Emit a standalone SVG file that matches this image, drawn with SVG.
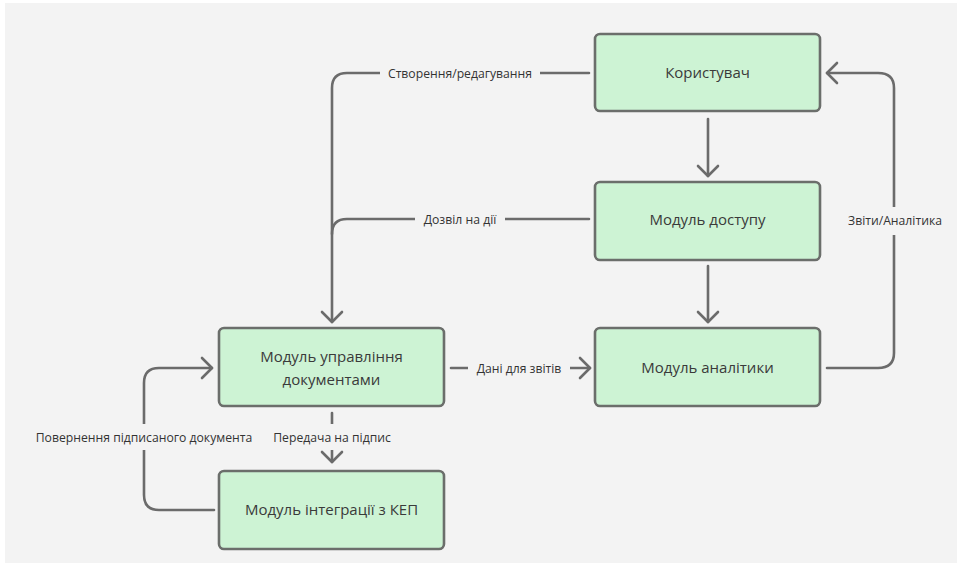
<svg xmlns="http://www.w3.org/2000/svg" width="957" height="566" viewBox="0 0 957 566">
  <defs>
    <marker id="arrow" viewBox="-12 -12 24 24" markerWidth="24" markerHeight="24" refX="0" refY="0" orient="auto" markerUnits="userSpaceOnUse">
      <path d="M-10,-10 L0,0 L-10,10" fill="none" stroke="#6b6b6b" stroke-width="2.6" stroke-linecap="round" stroke-linejoin="round"/>
    </marker>
  </defs>
  <style>
    .node rect { fill: #cdf3d4; stroke: #6b6e6b; stroke-width: 2.6; }
    .node text { font-family: "Open Sans", "Noto Sans", sans-serif; font-size: 15px; fill: #3a3a3a; text-anchor: middle; }
    .edge { fill: none; stroke: #6b6b6b; stroke-width: 2.6; stroke-linecap: round; }
    .lbl { font-family: "Open Sans", "Noto Sans", sans-serif; font-size: 12.2px; fill: #333; text-anchor: middle; }
    .lblbg { fill: #f3f3f3; }
  </style>

  <rect x="0" y="0" width="957" height="566" fill="#ffffff"/>
  <rect x="5" y="3" width="952" height="560" fill="#f3f3f3"/>

  <g id="connectors">
    <!-- user to access module -->
    <path class="edge" d="M708,119 V176" marker-end="url(#arrow)"/>
    <!-- access module to analytics -->
    <path class="edge" d="M708,266 V322" marker-end="url(#arrow)"/>
    <!-- create/edit -->
    <path class="edge" d="M589,73 H347 Q332,73 332,88 V322" marker-end="url(#arrow)"/>
    <rect class="lblbg" x="380" y="64" width="160" height="18"/>
    <text class="lbl" x="460" y="77.5">Створення/редагування</text>
    <!-- permission -->
    <path class="edge" d="M589,219 H347 Q332,219 332,234"/>
    <rect class="lblbg" x="415" y="210" width="90" height="18"/>
    <text class="lbl" x="460" y="223.5">Дозвіл на дії</text>
    <!-- report data -->
    <path class="edge" d="M451,368 H590" marker-end="url(#arrow)"/>
    <rect class="lblbg" x="468" y="359" width="102" height="18"/>
    <text class="lbl" x="519" y="372.5">Дані для звітів</text>
    <!-- reports back to user -->
    <path class="edge" d="M827,368 H878 Q894,368 894,353 V88 Q894,73 878,73 H827" marker-end="url(#arrow)"/>
    <rect class="lblbg" x="840" y="207" width="112" height="28"/>
    <text class="lbl" x="895" y="225">Звіти/Аналітика</text>
    <!-- send for signing -->
    <path class="edge" d="M332,413 V462" marker-end="url(#arrow)"/>
    <rect class="lblbg" x="264" y="424" width="136" height="26"/>
    <text class="lbl" x="332" y="442">Передача на підпис</text>
    <!-- signed document returned -->
    <path class="edge" d="M214,510 H159 Q144,510 144,495 V383 Q144,368 159,368 H212" marker-end="url(#arrow)"/>
    <rect class="lblbg" x="26" y="424" width="236" height="26"/>
    <text class="lbl" x="144" y="442">Повернення підписаного документа</text>
  </g>

  <g id="user" class="node">
    <rect x="595" y="34" width="225" height="77" rx="5"/>
    <text x="707.5" y="78">Користувач</text>
  </g>
  <g id="access" class="node">
    <rect x="595" y="182" width="225" height="78" rx="5"/>
    <text x="707.5" y="225">Модуль доступу</text>
  </g>
  <g id="analytics" class="node">
    <rect x="595" y="328" width="225" height="78" rx="5"/>
    <text x="707.5" y="373">Модуль аналітики</text>
  </g>
  <g id="documents" class="node">
    <rect x="219" y="328" width="225" height="78" rx="5"/>
    <text x="331.5" y="362">Модуль управління</text>
    <text x="331.5" y="385">документами</text>
  </g>
  <g id="kep" class="node">
    <rect x="219" y="471" width="225" height="78" rx="5"/>
    <text x="331.5" y="515">Модуль інтеграції з КЕП</text>
  </g>
</svg>
